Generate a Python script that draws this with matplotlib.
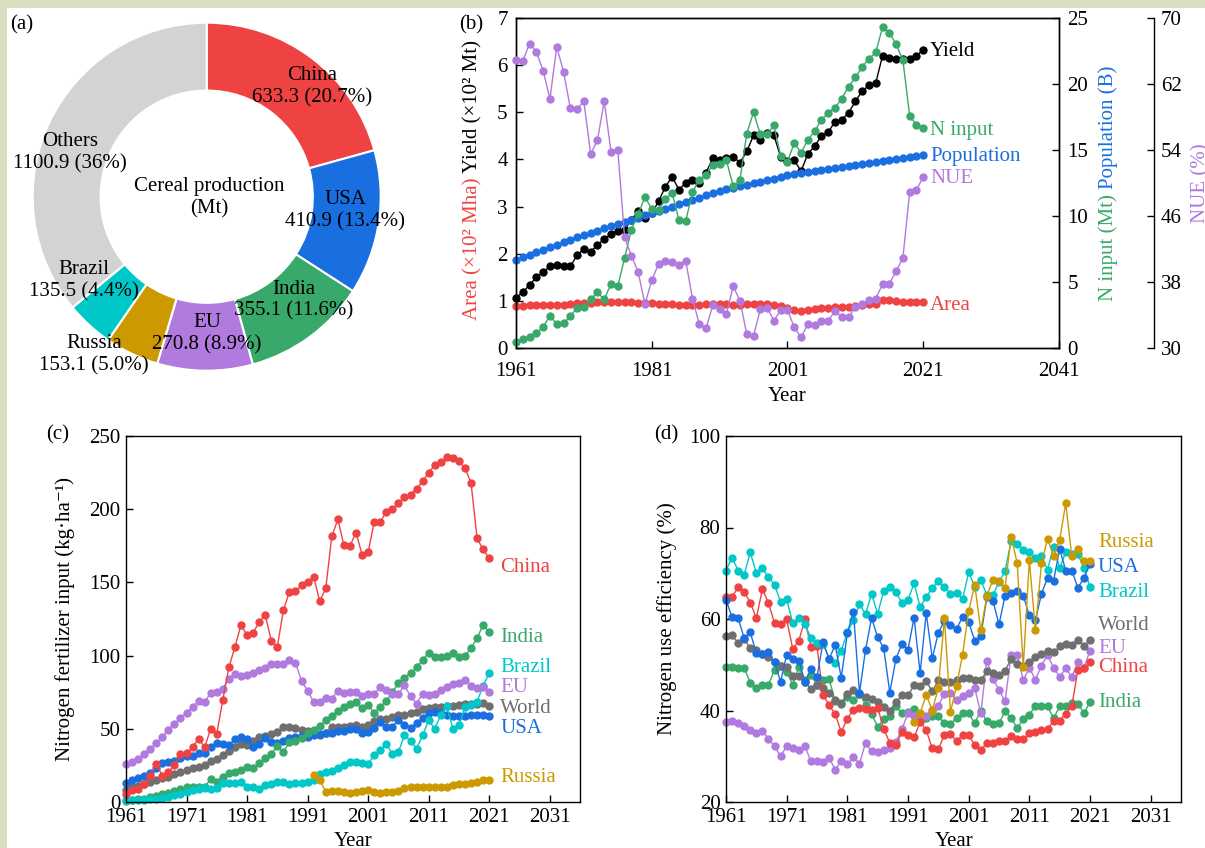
import matplotlib
matplotlib.use('Agg')
import matplotlib.pyplot as plt
from matplotlib.patches import Rectangle

plt.rcParams['font.family'] = ['Liberation Serif', 'DejaVu Serif']
plt.rcParams['font.size'] = 15

# ---------------- data ----------------
years = list(range(1961, 2022))
years_ru = list(range(1992, 2022))

# (a) cereal production (Mt)
pie_names = ['China', 'USA', 'India', 'EU', 'Russia', 'Brazil', 'Others']
pie_values = [633.3, 410.9, 355.1, 270.8, 153.1, 135.5, 1100.9]
pie_pct = ['20.7%', '13.4%', '11.6%', '8.9%', '5.0%', '4.4%', '36%']

# (b) China
cn_yield = [1.07, 1.18, 1.34, 1.50, 1.61, 1.73, 1.77, 1.73, 1.73, 1.97,
            2.10, 2.04, 2.19, 2.31, 2.42, 2.48, 2.50, 2.72, 2.90, 2.76,
            2.86, 3.11, 3.42, 3.63, 3.36, 3.50, 3.57, 3.50, 3.72, 4.03,
            3.98, 4.03, 4.06, 3.93, 4.17, 4.51, 4.42, 4.57, 4.51, 4.05,
            3.97, 3.98, 3.75, 4.12, 4.28, 4.50, 4.58, 4.80, 4.84, 4.99,
            5.23, 5.45, 5.57, 5.62, 6.20, 6.15, 6.13, 6.12, 6.13, 6.19, 6.33]
cn_area = [0.90, 0.90, 0.91, 0.91, 0.91, 0.91, 0.92, 0.92, 0.93, 0.95,
           0.96, 0.96, 0.97, 0.98, 0.98, 0.98, 0.98, 0.97, 0.96, 0.96,
           0.95, 0.94, 0.94, 0.93, 0.92, 0.92, 0.92, 0.92, 0.93, 0.93,
           0.93, 0.93, 0.92, 0.92, 0.93, 0.94, 0.94, 0.94, 0.92, 0.90,
           0.85, 0.80, 0.78, 0.80, 0.82, 0.84, 0.85, 0.86, 0.87, 0.88,
           0.90, 0.91, 0.93, 0.94, 1.02, 1.01, 0.99, 0.98, 0.98, 0.97, 0.98]
cn_ninput = [0.46, 0.68, 0.82, 1.14, 1.57, 2.46, 1.79, 1.89, 2.39, 3.04,
             3.14, 3.68, 4.21, 3.68, 4.86, 4.68, 6.82, 8.96, 10.14, 11.43,
             10.54, 10.46, 11.29, 11.75, 9.71, 9.61, 11.79, 12.75, 13.14, 13.86,
             13.96, 14.21, 12.25, 12.75, 16.25, 17.86, 16.18, 16.18, 16.86, 14.54,
             14.11, 15.54, 14.79, 15.75, 16.43, 17.30, 17.80, 18.20, 18.90, 19.80,
             20.50, 21.30, 21.90, 22.40, 24.30, 23.90, 23.00, 21.80, 17.60, 16.90, 16.70]
cn_pop = [6.68, 6.86, 7.05, 7.24, 7.43, 7.62, 7.81, 8.00, 8.19, 8.38,
          8.57, 8.73, 8.90, 9.06, 9.23, 9.39, 9.55, 9.71, 9.88, 10.04,
          10.20, 10.37, 10.54, 10.71, 10.88, 11.05, 11.22, 11.39, 11.56, 11.73,
          11.90, 12.02, 12.14, 12.25, 12.37, 12.49, 12.60, 12.72, 12.84, 12.95,
          13.07, 13.15, 13.23, 13.31, 13.39, 13.46, 13.55, 13.64, 13.72, 13.81,
          13.90, 13.97, 14.04, 14.11, 14.18, 14.25, 14.32, 14.39, 14.46, 14.53, 14.60]
nue_china = [64.9, 64.8, 66.9, 65.9, 63.6, 60.2, 66.5, 63.5, 59.1, 59.0,
             59.9, 53.5, 55.2, 59.9, 53.8, 54.0, 43.4, 41.2, 39.2, 35.3,
             38.2, 40.2, 40.5, 40.4, 40.1, 40.6, 36.0, 32.9, 32.4, 35.2,
             34.7, 34.1, 37.5, 35.7, 31.7, 31.5, 34.7, 34.9, 33.3, 34.6,
             34.6, 32.5, 31.3, 32.9, 32.8, 33.3, 33.3, 34.5, 33.7, 33.7,
             35.0, 35.3, 35.8, 36.0, 37.7, 37.8, 39.3, 40.9, 48.9, 49.2, 50.7]

# (c) nitrogen fertilizer input (kg/ha)
nf_china = [5.2, 8, 9, 12, 17.5, 26, 18, 20.5, 25, 33,
            33.5, 37.6, 43, 37.6, 50, 46.7, 70, 92, 106, 121,
            114, 115.5, 123, 128, 110, 106, 131, 143.6, 144, 148,
            150, 154, 137, 146, 181.6, 193, 175.5, 175, 184, 169,
            170.5, 191.4, 191.4, 198, 200, 204, 208.5, 210, 214, 219,
            225, 230, 232.5, 235.4, 235.2, 233, 228, 218, 180, 172.5, 166.4]
nf_india = [1, 1.4, 1.8, 2.3, 3.2, 4.1, 5.5, 6.4, 7.7, 8.7,
            10, 10.5, 10, 10.5, 15.5, 14, 17.3, 19.6, 20.7, 21.9,
            23.7, 23.5, 26.4, 30, 33, 38, 34, 41, 42, 44,
            47, 49, 52, 56, 59, 62, 65, 67, 68, 64,
            66, 61, 65, 69, 75, 81, 85, 88, 92, 97,
            102, 99, 99, 100, 102, 99, 100, 105, 112, 121, 116]
nf_brazil = [1.4, 1.4, 1.4, 1.4, 1.8, 1.8, 2.5, 3.2, 4.8, 5.5,
             7, 8.2, 8.7, 9.3, 8.7, 9.5, 13.2, 12.8, 12.8, 13.9,
             10, 10, 8.7, 11.6, 12.3, 13.9, 13.5, 12.3, 12.8, 12.8,
             13.9, 15, 19.1, 20.7, 21.4, 23, 25.3, 27.6, 27.6, 26.9,
             26.2, 31.9, 35.3, 39.6, 33, 34.2, 45.6, 41.7, 36.5, 45.6,
             55.8, 50.1, 59.3, 65.4, 50.1, 52.4, 65, 66, 68.5, 79.5, 87.8]
nf_eu = [26, 27.3, 29.6, 33, 36.5, 40.3, 44.4, 49.5, 53.6, 57.4,
         60.8, 65, 68.8, 68.4, 74.5, 75.2, 77.5, 84.3, 87.7, 86,
         86.6, 88.2, 90.5, 91.2, 94, 94, 94.6, 97.3, 95, 82.7,
         75.9, 68.4, 68.4, 71.3, 70.6, 75.9, 74.5, 75.2, 75.2, 72.2,
         73.6, 73.6, 78.6, 76.3, 73.6, 73.6, 79.8, 72.2, 67.2, 74,
         72.9, 74, 76.8, 78.6, 80.9, 81.4, 83.2, 79.1, 77.9, 78.6, 75.2]
nf_world = [8.2, 10, 11, 12.3, 13.9, 15, 16.2, 17.3, 19.1, 20.7,
            21.9, 23, 24.1, 25.3, 28.2, 29.1, 32.1, 35, 37.8, 39.6,
            38.9, 41.9, 44.2, 45.1, 46.4, 48, 51, 51.5, 50.3, 49.2,
            48.7, 46.9, 45.8, 47.4, 51.5, 51, 51, 51.9, 52.6, 51.5,
            52.6, 55.6, 56.5, 56.5, 58.3, 59.4, 59.4, 61, 61.7, 63.3,
            64, 64.7, 64.7, 65.6, 65.6, 66.3, 66.9, 66.9, 66.9, 67.4, 65.6]
nf_usa = [12.8, 15, 16.2, 17.8, 20, 23, 26.9, 27.6, 28.2, 29.8,
          31.4, 31.4, 33.2, 33.7, 37.5, 40.5, 39.6, 38.9, 42.8, 44.6,
          42.8, 37.8, 39.6, 43.5, 41.2, 40.5, 41.9, 43.5, 44.2, 45.1,
          44.6, 45.8, 46.4, 46.9, 47.4, 48.7, 48.7, 49.6, 49.6, 47.4,
          48, 50.3, 54.9, 51.5, 51.5, 56, 52.6, 50.3, 54.2, 57.1,
          61, 61.5, 60.5, 59.5, 58.5, 58.7, 58.7, 59.4, 59.4, 59.4, 58.7]
nf_russia = [18.4, 15, 7, 7.3, 7.3, 6.8, 6.4, 7, 7.7, 8.2,
             7, 6.4, 6.6, 6.8, 7.7, 9.3, 10.5, 10.5, 10, 10.5,
             10, 10, 10.5, 11.6, 12.3, 12.3, 13.2, 13.9, 15, 15]

# (d) nitrogen use efficiency (%)
nue_usa = [64.2, 60.4, 60.2, 55.8, 57.1, 52.5, 52.3, 52.7, 50.5, 46.3,
           52.2, 51.2, 50.9, 46.3, 49.0, 47.4, 54.9, 51.2, 54.4, 47.1,
           56.9, 61.6, 43.8, 53.3, 60.2, 56.0, 53.6, 43.9, 51.2, 54.6,
           53.3, 60.3, 48.2, 61.3, 51.4, 57.0, 59.6, 58.7, 57.8, 60.5,
           59.4, 55.2, 56.3, 64.7, 64.0, 58.8, 65.1, 65.6, 66.2, 65.1,
           60.8, 59.7, 65.5, 69.0, 68.4, 75.3, 70.6, 70.6, 66.8, 69.0, 72.1]
nue_brazil = [70.6, 73.4, 70.6, 69.7, 74.6, 70.0, 71.1, 69.1, 67.5, 63.7,
              64.3, 59.1, 60.2, 59.0, 55.8, 54.8, 54.6, 51.3, 50.3, 53.1,
              57.1, 59.7, 63.2, 61.1, 65.5, 61.1, 66.2, 67.1, 65.9, 63.5,
              64.2, 67.8, 62.6, 64.8, 66.8, 68.2, 67.1, 65.5, 65.6, 64.4,
              70.2, 67.1, 68.6, 65.2, 65.2, 68.1, 70.5, 77.0, 76.4, 75.1,
              74.6, 73.4, 73.7, 70.8, 75.8, 71.1, 74.6, 74.1, 74.2, 71.1, 67.1]
nue_world = [56.3, 56.4, 54.8, 55.6, 53.6, 53.2, 52.3, 51.7, 50.5, 49.8,
             49.6, 47.6, 47.6, 46.2, 44.8, 45.6, 45.0, 43.8, 42.4, 41.4,
             43.6, 44.5, 43.6, 42.9, 42.5, 41.8, 40.7, 40.0, 41.8, 43.3,
             43.3, 45.5, 45.3, 46.4, 44.2, 46.6, 46.2, 46.2, 46.7, 47.1,
             47.1, 46.6, 46.6, 48.6, 48.2, 47.7, 48.7, 51.3, 50.2, 49.8,
             50.6, 51.7, 52.4, 53.0, 52.7, 54.0, 54.6, 54.4, 55.4, 54.1, 55.4]
nue_eu = [37.4, 37.6, 37.2, 36.7, 35.8, 35.1, 35.6, 33.8, 32.2, 30.0,
          32.2, 31.8, 31.3, 32.2, 28.9, 28.9, 28.7, 29.6, 27.1, 28.9,
          28.2, 29.8, 28.4, 32.9, 31.1, 30.9, 31.4, 31.8, 33.2, 35.9,
          39.4, 38.7, 38.3, 38.9, 40.2, 41.0, 43.7, 43.8, 42.3, 43.1,
          43.9, 44.9, 39.4, 50.9, 46.9, 44.5, 42.0, 52.2, 52.2, 46.7,
          49.3, 46.7, 49.8, 52.2, 49.3, 47.4, 49.2, 47.4, 50.5, 49.3, 53.1]
nue_india = [49.6, 49.6, 49.3, 49.3, 46.1, 44.9, 45.6, 45.6, 48.9, 49.8,
             48.5, 45.6, 49.6, 46.6, 47.8, 45.6, 46.7, 46.9, 42.0, 41.6,
             42.9, 42.3, 43.7, 41.3, 39.3, 36.4, 38.1, 38.7, 40.9, 39.4,
             39.6, 40.3, 38.7, 38.3, 38.7, 38.7, 37.2, 37.1, 38.3, 39.4,
             39.4, 37.2, 40.0, 37.6, 37.1, 37.2, 39.8, 38.3, 36.2, 38.1,
             39.1, 41.0, 41.0, 40.9, 38.3, 40.9, 41.0, 41.6, 41.5, 39.4, 41.8]
nue_russia = [37.4, 39.4, 43.4, 40.0, 44.9, 60.2, 39.6, 45.4, 52.2, 61.7,
              67.5, 57.5, 65.0, 68.6, 68.3, 66.8, 78.0, 72.2, 49.6, 72.9,
              57.5, 72.2, 77.5, 73.7, 77.3, 85.3, 73.7, 75.3, 72.6, 72.6]

RED = '#ef4343'
BLUE = '#1a6fe0'
GREEN = '#38a96a'
PURPLE = '#b07ade'
GOLD = '#cc9a00'
CYAN = '#00c8c8'
GREY = '#6f6f6f'
LIGHT = '#d3d3d3'
pie_colors = [RED, BLUE, GREEN, PURPLE, GOLD, CYAN, LIGHT]

W, H = 1205, 848
fig = plt.figure(figsize=(W / 100, H / 100), dpi=100, facecolor='#d8dfc0')
fig.add_artist(Rectangle((7 / W, 0), 1, 1 - 8 / H, transform=fig.transFigure,
                         facecolor='white', edgecolor='none', zorder=-10))


def px_axes(left, top, right, bottom):
    return fig.add_axes([left / W, 1 - bottom / H, (right - left) / W, (bottom - top) / H])


def ftext(x, y, s, **kw):
    # text placed in pixel coordinates (top-left origin)
    return fig.text(x / W, 1 - y / H, s, **kw)


def style(ax, pad=4):
    ax.tick_params(direction='in', length=5, width=1, labelsize=15, pad=pad)
    for sp in ax.spines.values():
        sp.set_linewidth(1)


line_kw = dict(marker='o', ms=5, lw=1, clip_on=False)

# ---------------- (a) ----------------
cx, cy, R = 206.7, 196.7, 174
ax_a = px_axes(cx - 180, cy - 180, cx + 180, cy + 180)
ax_a.pie(pie_values, colors=pie_colors, startangle=90, counterclock=False, radius=1,
         wedgeprops=dict(width=0.39, edgecolor='white', linewidth=1.5))
ax_a.set_xlim(-180 / R, 180 / R)
ax_a.set_ylim(-180 / R, 180 / R)
ax_a.set_aspect('equal')
label_pos = [(0.605, 0.633), (0.795, -0.082), (0.502, -0.594), (0.002, -0.789),
             (-0.648, -0.910), (-0.705, -0.484), (-0.786, 0.251)]
for name, val, pct, (lx, ly) in zip(pie_names, pie_values, pie_pct, label_pos):
    ax_a.text(lx, ly, f'{name}\n{val} ({pct})', ha='center', va='center', linespacing=1.2)
ax_a.text(0.013, -0.007, 'Cereal production\n(Mt)', ha='center', va='center', linespacing=1.2)
ftext(22, 25, '(a)', ha='center', va='center')

# ---------------- (b) ----------------
ax_b = px_axes(516, 18, 1059, 348)
ax_b.plot(years, cn_area, color=RED, **line_kw)
ax_b.plot(years, cn_yield, color='black', **line_kw)
ax_b.set_xlim(1961, 2041)
ax_b.set_ylim(0, 7)
ax_b.set_xticks([1961, 1981, 2001, 2021, 2041])
ax_b.set_yticks(range(0, 8))
style(ax_b, pad=6)
ax_b.tick_params(axis='x', pad=10)

ax_b2 = ax_b.twinx()
ax_b2.plot(years, cn_pop, color=BLUE, **line_kw)
ax_b2.plot(years, cn_ninput, color=GREEN, **line_kw)
ax_b2.set_ylim(0, 25)
ax_b2.set_yticks(range(0, 26, 5))
style(ax_b2, pad=6)

ax_b3 = ax_b.twinx()
ax_b3.spines['right'].set_position(('axes', (1154 - 516) / 543))
for s in ['top', 'bottom', 'left']:
    ax_b3.spines[s].set_visible(False)
ax_b3.plot(years, nue_china, color=PURPLE, **line_kw)
ax_b3.set_ylim(30, 70)
ax_b3.set_yticks(range(30, 71, 8))
style(ax_b3, pad=5)

ax_b.text(2022, 6.28, 'Yield', color='black', va='center')
ax_b2.text(2022, 16.5, 'N input', color=GREEN, va='center')
ax_b2.text(2022, 14.5, 'Population', color=BLUE, va='center')
ax_b3.text(2022, 50.5, 'NUE', color=PURPLE, va='center')
ax_b.text(2022, 0.91, 'Area', color=RED, va='center')

ftext(787.5, 396, 'Year', ha='center', va='center')
ftext(471, 25, '(b)', ha='center', va='center')

renderer = fig.canvas.get_renderer()


def stacked_ylabel(x, yc, parts, gap=5):
    # several coloured pieces of one rotated label, drawn bottom to top
    texts = [ftext(x, 0, s, color=c, rotation=90, ha='center', va='bottom') for s, c in parts]
    hs = [t.get_window_extent(renderer).height for t in texts]
    total = sum(hs) + gap * (len(hs) - 1)
    y = (H - yc) - total / 2
    for t, h in zip(texts, hs):
        t.set_y(y / H)
        y += h + gap


stacked_ylabel(473, 180, [('Area (×10² Mha)', RED), ('Yield (×10² Mt)', 'black')])
stacked_ylabel(1108, 183, [('N input (Mt)', GREEN), ('Population (B)', BLUE)])
stacked_ylabel(1201, 183, [('NUE (%)', PURPLE)])

# ---------------- (c) ----------------
ax_c = px_axes(126, 436, 580, 802)
ax_c.plot(years, nf_world, color=GREY, **line_kw)
ax_c.plot(years, nf_usa, color=BLUE, **line_kw)
ax_c.plot(years, nf_india, color=GREEN, **line_kw)
ax_c.plot(years, nf_brazil, color=CYAN, **line_kw)
ax_c.plot(years, nf_eu, color=PURPLE, **line_kw)
ax_c.plot(years_ru, nf_russia, color=GOLD, **line_kw)
ax_c.plot(years, nf_china, color=RED, **line_kw)
ax_c.set_xlim(1961, 2036)
ax_c.set_ylim(0, 250)
ax_c.set_xticks(range(1961, 2032, 10))
ax_c.set_yticks(range(0, 251, 50))
style(ax_c)
c_labels = [('China', 160.5, RED), ('India', 112.7, GREEN), ('Brazil', 92, CYAN),
            ('EU', 78, PURPLE), ('World', 64, GREY), ('USA', 50.5, BLUE), ('Russia', 16.4, GOLD)]
for s, y, c in c_labels:
    ax_c.text(2022.8, y, s, color=c, va='center')
ftext(65, 619, 'Nitrogen fertilizer input (kg·ha⁻¹)', rotation=90, ha='center', va='center')
ftext(353, 842, 'Year', ha='center', va='center')
ftext(58, 435, '(c)', ha='center', va='center')

# ---------------- (d) ----------------
ax_d = px_axes(726, 436, 1181, 802)
ax_d.plot(years, nue_india, color=GREEN, **line_kw)
ax_d.plot(years, nue_eu, color=PURPLE, **line_kw)
ax_d.plot(years, nue_world, color=GREY, **line_kw)
ax_d.plot(years, nue_china, color=RED, **line_kw)
ax_d.plot(years, nue_brazil, color=CYAN, **line_kw)
ax_d.plot(years, nue_usa, color=BLUE, **line_kw)
ax_d.plot(years_ru, nue_russia, color=GOLD, **line_kw)
ax_d.set_xlim(1961, 2036)
ax_d.set_ylim(20, 100)
ax_d.set_xticks(range(1961, 2032, 10))
ax_d.set_yticks(range(20, 101, 20))
style(ax_d)
d_labels = [('Russia', 76.7, GOLD), ('USA', 71.3, BLUE), ('Brazil', 65.8, CYAN),
            ('World', 58.5, GREY), ('EU', 53.6, PURPLE), ('China', 49.5, RED), ('India', 41.7, GREEN)]
for s, y, c in d_labels:
    ax_d.text(2022.3, y, s, color=c, va='center')
ftext(667, 619, 'Nitrogen use efficiency (%)', rotation=90, ha='center', va='center')
ftext(954, 842, 'Year', ha='center', va='center')
ftext(666, 435, '(d)', ha='center', va='center')

fig.savefig('out.png', dpi=100, facecolor=fig.get_facecolor())
